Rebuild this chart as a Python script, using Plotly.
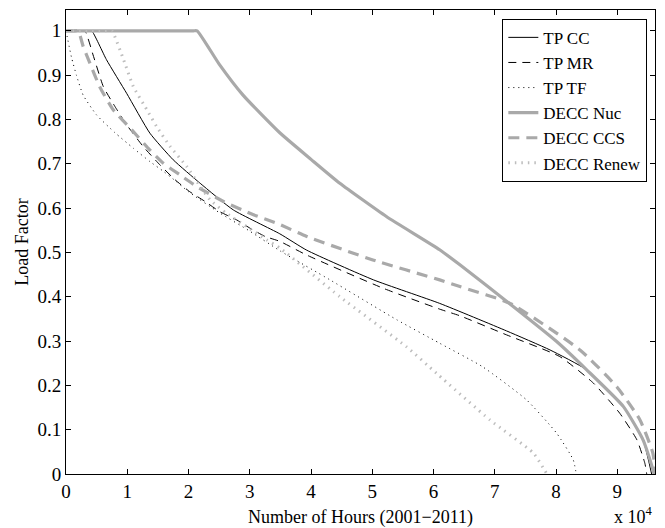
import plotly.graph_objects as go

# load duration curves, x in units of 10^4 hours
tp_cc_x = [0, 0.37, 0.42, 0.66, 0.99, 1.37, 1.75, 2.19, 2.73, 3.49, 3.93, 5.02, 6.1, 7.19, 7.9, 8.5, 9.1, 9.42, 9.56]
tp_cc_y = [1, 1, 1, 0.935, 0.859, 0.769, 0.709, 0.656, 0.596, 0.542, 0.505, 0.438, 0.385, 0.323, 0.28, 0.235, 0.152, 0.077, 0]

tp_mr_x = [0, 0.26, 0.31, 0.45, 0.61, 0.8, 0.99, 1.26, 1.53, 1.78, 2.02, 2.27, 2.51, 2.79, 3.0, 3.25, 3.49, 3.93, 5.18, 6.1, 6.43, 7.19, 8.06, 8.61, 9.04, 9.32, 9.45, 9.48]
tp_mr_y = [1, 1, 1, 0.942, 0.874, 0.829, 0.788, 0.739, 0.698, 0.664, 0.637, 0.615, 0.592, 0.573, 0.555, 0.536, 0.525, 0.494, 0.419, 0.372, 0.357, 0.314, 0.265, 0.205, 0.137, 0.077, 0.024, 0]

tp_tf_x = [0, 0.09, 0.17, 0.28, 0.5, 0.8, 1.1, 1.37, 1.6, 1.8, 2.0, 2.5, 3.0, 3.5, 4.31, 5.4, 6.1, 6.8, 7.52, 8.01, 8.28, 8.33]
tp_tf_y = [1, 0.94, 0.9, 0.855, 0.81, 0.77, 0.735, 0.705, 0.682, 0.66, 0.637, 0.59, 0.548, 0.503, 0.438, 0.348, 0.295, 0.242, 0.167, 0.092, 0.032, 0]

decc_nuc_x = [0, 2.08, 2.14, 2.5, 2.89, 3.49, 4.0, 4.47, 5.23, 6.1, 6.43, 7.3, 8.0, 8.5, 9.1, 9.42, 9.56, 9.6]
decc_nuc_y = [1, 1, 1, 0.925, 0.855, 0.77, 0.71, 0.656, 0.581, 0.506, 0.472, 0.378, 0.3, 0.235, 0.152, 0.077, 0.02, 0]

decc_ccs_x = [0, 0.15, 0.2, 0.28, 0.39, 0.55, 0.77, 1.07, 1.37, 1.59, 1.86, 2.13, 2.57, 3.06, 3.44, 3.93, 5.01, 6.1, 6.43, 7.25, 8.39, 8.99, 9.37, 9.58, 9.62]
decc_ccs_y = [1, 1, 1, 0.965, 0.927, 0.874, 0.822, 0.777, 0.731, 0.701, 0.675, 0.649, 0.615, 0.585, 0.566, 0.536, 0.483, 0.438, 0.423, 0.385, 0.28, 0.197, 0.122, 0.047, 0]

decc_renew_x = [0, 0.7, 0.75, 0.94, 1.1, 1.32, 1.48, 1.7, 1.97, 2.19, 2.35, 2.62, 2.95, 3.28, 3.49, 4.47, 5.56, 6.05, 6.92, 7.63, 7.85]
decc_renew_y = [1, 1, 1, 0.935, 0.874, 0.822, 0.784, 0.739, 0.694, 0.649, 0.619, 0.588, 0.558, 0.528, 0.51, 0.4, 0.287, 0.227, 0.122, 0.047, 0]

x_ticks = [0, 1, 2, 3, 4, 5, 6, 7, 8, 9]
y_ticks = [0, 0.1, 0.2, 0.3, 0.4, 0.5, 0.6, 0.7, 0.8, 0.9, 1]
y_tick_labels = ["0", "0.1", "0.2", "0.3", "0.4", "0.5", "0.6", "0.7", "0.8", "0.9", "1"]

gray = "#a9a9a9"
serif = "Liberation Serif, Times New Roman, serif"

series = [
    ("TP CC", tp_cc_x, tp_cc_y, "black", 1, "solid"),
    ("TP MR", tp_mr_x, tp_mr_y, "black", 1, "8px,6px"),
    ("TP TF", tp_tf_x, tp_tf_y, "black", 1, "1px,4px"),
    ("DECC Nuc", decc_nuc_x, decc_nuc_y, gray, 3.2, "solid"),
    ("DECC CCS", decc_ccs_x, decc_ccs_y, gray, 3.2, "11px,7px"),
    ("DECC Renew", decc_renew_x, decc_renew_y, "#bdbdbd", 3, "1.5px,5px"),
]

fig = go.Figure()
for name, xs, ys, color, width, dash in series:
    fig.add_trace(
        go.Scatter(
            x=xs,
            y=ys,
            name=name,
            mode="lines",
            line=dict(color=color, width=width, dash=dash, shape="spline", smoothing=0.5),
        )
    )

axis_style = dict(
    showline=True,
    linecolor="black",
    linewidth=1,
    mirror="ticks",
    ticks="inside",
    ticklen=5,
    tickcolor="black",
    showgrid=False,
    zeroline=False,
    automargin=False,
    tickfont=dict(family=serif, size=19, color="black"),
)

fig.update_xaxes(
    range=[0, 9.615],
    tickvals=x_ticks,
    title=dict(text="Number of Hours (2001\u22122011)", font=dict(family=serif, size=18, color="black"), standoff=11),
    **axis_style,
)
fig.update_yaxes(
    range=[0, 1.047],
    tickvals=y_ticks,
    ticktext=y_tick_labels,
    title=dict(text="Load Factor", font=dict(family=serif, size=18, color="black"), standoff=4),
    **axis_style,
)

fig.add_annotation(
    text="x 10<sup>4</sup>",
    xref="paper",
    yref="paper",
    x=1.0,
    y=-0.09,
    xanchor="right",
    yanchor="middle",
    showarrow=False,
    font=dict(family=serif, size=18, color="black"),
)

fig.update_layout(
    width=665,
    height=528,
    margin=dict(l=66, r=10, t=10, b=54),
    plot_bgcolor="white",
    paper_bgcolor="white",
    font=dict(family=serif, size=18, color="black"),
    legend=dict(
        x=0.987,
        y=0.981,
        xanchor="right",
        yanchor="top",
        bordercolor="black",
        borderwidth=1,
        bgcolor="white",
        font=dict(family=serif, size=17, color="black"),
        tracegroupgap=0,
        itemwidth=30,
    ),
    showlegend=True,
)

fig.write_html(
    "out.html",
    config={"displayModeBar": False},
    post_script="document.body.style.margin = '0';",
)
